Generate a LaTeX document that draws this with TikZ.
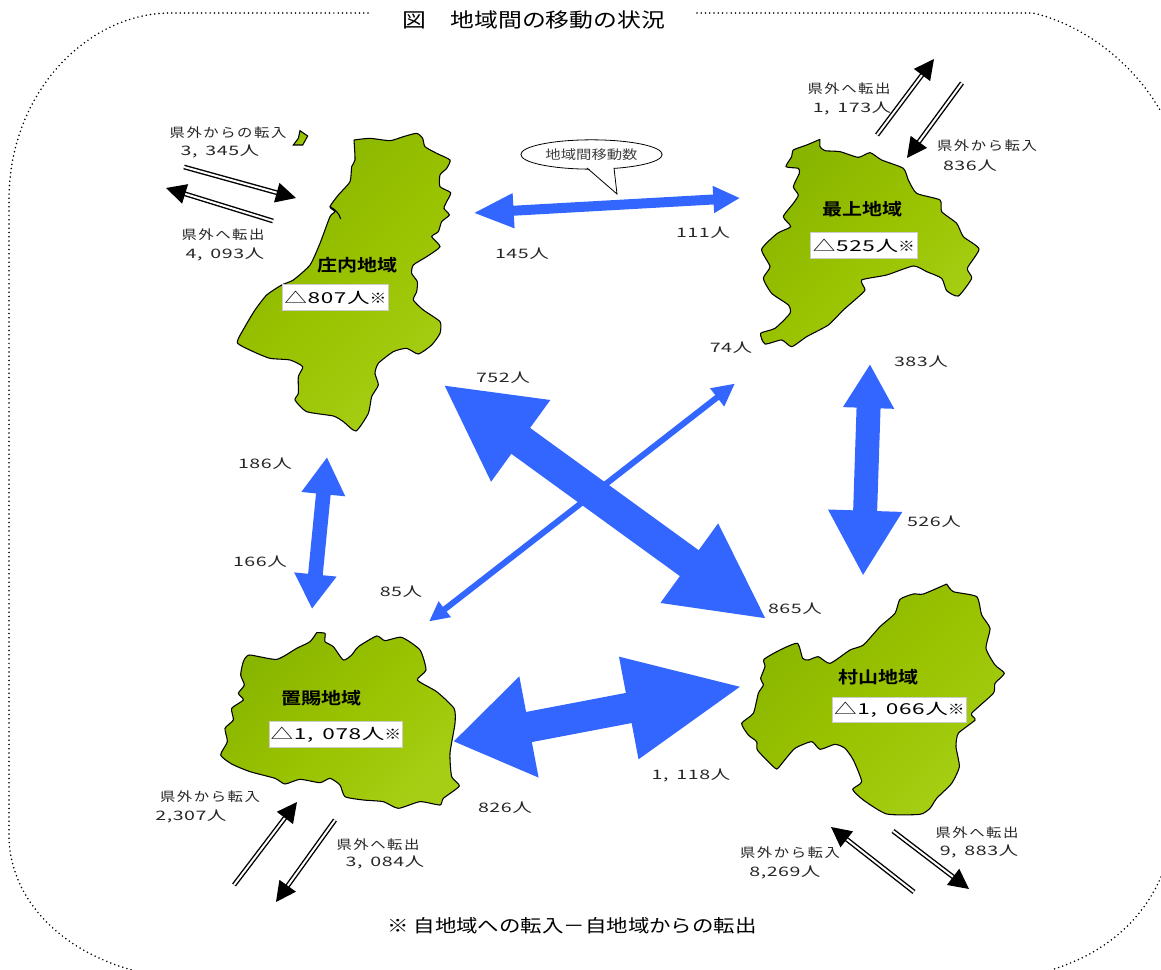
\documentclass[tikz,border=0pt]{standalone}
\usepackage{fontspec}
\usetikzlibrary{arrows.meta,shapes.geometric}
\setmainfont{Noto Sans CJK JP}
\newfontfamily\lblfont[FakeStretch=1.2]{Noto Sans CJK JP}
\newfontfamily\spcfont[FakeStretch=1.2,LetterSpace=12]{Noto Sans CJK JP}
\newfontfamily\numfont[FakeStretch=1.5,LetterSpace=4,WordSpace=1.6]{Noto Sans CJK JP}
\newfontfamily\boldfont[FakeStretch=1.2]{Noto Sans CJK JP Bold}
\newcommand{\kome}{{\lblfont\fontsize{10.5pt}{10pt}\selectfont ※}}
\definecolor{bluearr}{HTML}{3366FF}
\definecolor{mapdark}{HTML}{88B500}
\definecolor{mapmid}{HTML}{99C200}
\definecolor{maplight}{HTML}{A6CE14}
\tikzset{
 x=0.75pt,y=-0.75pt,
 region/.style={draw=black,line width=0.8pt,top color=mapdark,bottom color=maplight,middle color=mapmid,shading angle=45},
 zoomed/.style={x=0.25pt,y=-0.25pt},
 bluearw/.style={draw=bluearr,fill=bluearr},
 flow/.style={double,double distance=1.5pt,line width=1.05pt,-{Triangle[length=15pt,width=15pt]}},
 lbl/.style={font=\spcfont\fontsize{9.6pt}{11pt}\selectfont,text=black!85,inner sep=0pt,yshift=-0.6pt},
 numlbl/.style={font=\numfont\fontsize{9.8pt}{11pt}\selectfont,text=black!85,inner sep=0pt,yshift=-0.6pt},
 regname/.style={font=\boldfont\fontsize{12.5pt}{14pt}\selectfont,text=black,inner sep=0pt},
 valbox/.style={draw=black!20,fill=white,line width=0.8pt,minimum height=19pt,inner sep=0pt,font=\numfont\fontsize{11.3pt}{14pt}\selectfont,text=black},
 dotline/.style={line width=1.3pt,dash pattern=on 0pt off 3.2pt,line cap=round},
}
\begin{document}
\begin{tikzpicture}
\useasboundingbox (0,0) rectangle (1161,970);
% border
\draw[dotline] (368,13) -- (170,13) .. controls (90,13) and (9,90) .. (9,200) -- (9,840) .. controls (12,900) and (60,950) .. (132,970);
\draw[dotline] (697,13) -- (1033,13) .. controls (1085,25) and (1135,65) .. (1161,112);
\draw[dotline] (1161,877) .. controls (1140,925) and (1100,955) .. (1051,970);
\node[inner sep=0pt,font=\lblfont\fontsize{14.9pt}{16pt}\selectfont] (title) at (534,20) {図　地域間の移動の状況};
% regions
\begin{scope}[shift={(130,110)},zoomed]
\path[region] plot[smooth,tension=0.35] coordinates {(672,90)(720,85)(780,92)(820,80)(860,70)(878,85)(885,110)(920,130)(960,150)(950,175)(930,195)(930,230)(962,248)(950,275)(942,295)(958,315)(935,335)(925,365)(905,380)(930,410)(890,440)(850,465)(845,490)(862,515)(860,545)(850,570)(880,600)(930,635)(930,670)(905,705)(865,732)(830,715)(790,725)(745,760)(735,790)(745,825)(725,860)(715,910)(678,963)(640,935)(610,918)(530,905)(495,870)(505,850)(505,800)(518,770)(480,750)(420,745)(370,725)(322,698)(345,650)(375,600)(410,555)(455,525)(490,510)(540,465)(570,400)(600,320)(615,305)(600,290)(625,255)(660,215)(665,170)(675,150)(672,90)};
\draw[line width=0.8pt] (600,290) .. controls (615,298) and (628,310) .. (632,327);
\path[region] (510,62) -- (533,78) -- (518,105) -- (490,105) -- (505,85) -- cycle;
\end{scope}
\begin{scope}[shift={(700,50)},zoomed]
\path[region] plot[smooth,tension=0.35] coordinates {(360,268)(360,290)(375,302)(420,305)(475,322)(510,308)(545,330)(610,355)(625,390)(650,430)(720,450)(725,485)(770,520)(790,560)(837,597)(802,655)(815,685)(775,738)(740,722)(725,685)(680,665)(640,648)(560,675)(485,690)(495,720)(470,745)(430,780)(385,825)(320,860)(275,890)(245,870)(195,882)(182,850)(225,835)(270,790)(265,765)(215,730)(190,685)(210,650)(185,598)(232,550)(272,530)(250,500)(280,460)(295,435)(280,410)(298,370)(295,355)(258,350)(275,320)(280,300)(320,285)(360,268)};
\end{scope}
\begin{scope}[shift={(150,620)},zoomed]
\path[region] plot[smooth,tension=0.35] coordinates {(500,38)(525,40)(525,65)(550,80)(580,120)(605,105)(625,80)(680,48)(705,62)(755,52)(810,90)(828,150)(802,180)(860,215)(912,265)(915,310)(900,400)(905,470)(928,498)(880,535)(870,555)(810,545)(745,565)(700,545)(640,540)(585,530)(570,495)(540,475)(510,488)(450,478)(405,492)(375,475)(300,455)(245,432)(212,405)(232,365)(225,325)(250,300)(245,265)(280,240)(265,220)(283,195)(272,165)(280,125)(298,105)(380,118)(440,85)(480,65)(500,38)};
\end{scope}
\begin{scope}[shift={(720,570)},zoomed]
\path[region] plot[smooth,tension=0.35] coordinates {(680,42)(700,65)(770,80)(785,135)(810,175)(798,235)(825,285)(853,310)(825,340)(820,370)(755,430)(765,450)(715,490)(708,530)(718,590)(695,640)(650,685)(630,715)(600,733)(500,732)(430,690)(398,658)(425,635)(400,570)(375,535)(345,523)(300,538)(275,515)(225,535)(190,575)(170,597)(145,575)(112,540)(110,515)(85,495)(65,460)(100,430)(115,370)(130,345)(122,325)(135,290)(132,268)(180,240)(232,220)(248,265)(265,270)(295,260)(330,280)(390,240)(430,225)(480,170)(525,130)(540,88)(580,72)(610,72)(680,42)};
\end{scope}
% endpoints of the flows between regions
\coordinate (sm) at (473,213); \coordinate (ms) at (740,198);
\coordinate (sy) at (443,384.5); \coordinate (ys) at (767,619.5);
\coordinate (mo) at (735,383.5); \coordinate (om) at (429,621.5);
\coordinate (my) at (870,364); \coordinate (ym) at (863,576);
\coordinate (so) at (327,457); \coordinate (os) at (312,609);
\coordinate (oy) at (453,741.5); \coordinate (yo) at (744,686);
\draw[bluearw,line width=7.5pt,{Triangle[length=30.5pt,width=24pt]}-{Triangle[length=20pt,width=19pt]}] (sm) -- (ms);
\draw[bluearw,line width=4.5pt,{Triangle[length=17pt,width=16pt]}-{Triangle[length=15pt,width=14pt]}] (mo) -- (om);
\draw[bluearw,line width=24pt,{Triangle[length=72pt,width=70pt]}-{Triangle[length=72pt,width=68pt]}] (sy) -- (ys);
\draw[bluearw,line width=18pt,{Triangle[length=33pt,width=36pt]}-{Triangle[length=49pt,width=52pt]}] (my) -- (ym);
\draw[bluearw,line width=11pt,{Triangle[length=28pt,width=31pt]}-{Triangle[length=26pt,width=30pt]}] (so) -- (os);
\draw[bluearw,line width=23pt,{Triangle[length=58pt,width=73pt]}-{Triangle[length=88pt,width=71pt]}] (oy) -- (yo);
% callout
\node[ellipse,draw=black,fill=white,line width=0.6pt,minimum width=106pt,minimum height=22pt,inner sep=0pt,text=black!75,font=\lblfont\fontsize{9.6pt}{11pt}\selectfont] (call) at (591.5,154.5) {地域間移動数};
\coordinate (calltip) at (617,194);
\fill[white] (587,167) -- (calltip) -- (614,167) -- cycle;
\draw[line width=0.6pt] (587,168) -- (calltip) -- (614,168);
% external flows
\coordinate (a1) at (184,167); \coordinate (a2) at (296,198);
\coordinate (b1) at (273,221); \coordinate (b2) at (166,188);
\coordinate (c1) at (877,135); \coordinate (c2) at (934,59);
\coordinate (d1) at (962,83); \coordinate (d2) at (907,158);
\coordinate (e1) at (234,885); \coordinate (e2) at (297,802);
\coordinate (f1) at (335,820); \coordinate (f2) at (276,902);
\coordinate (g1) at (914,892); \coordinate (g2) at (831,827);
\coordinate (h1) at (893,831); \coordinate (h2) at (969,889);
\foreach \p/\q in {a1/a2,b1/b2,c1/c2,d1/d2,e1/e2,f1/f2,g1/g2,h1/h2} \draw[flow] (\p) -- (\q);
% region names and values
\node[regname] (n1) at (357,265) {庄内地域};
\node[valbox,minimum width=80pt] (v1) at (335.5,297.5) {△807人\kome};
\node[regname] (n2) at (862,209) {最上地域};
\node[valbox,minimum width=80pt] (v2) at (864,245.5) {△525人\kome};
\node[regname] (n3) at (321,698) {置賜地域};
\node[valbox,minimum width=100pt] (v3) at (336,734.5) {△1, 078人\kome};
\node[regname] (n4) at (878,677) {村山地域};
\node[valbox,minimum width=100pt] (v4) at (899.5,710) {△1, 066人\kome};
% labels
\node[lbl] (t1) at (228,132) {県外からの転入};
\node[numlbl] (t2) at (220,151) {3, 345人};
\node[lbl] (t3) at (223,234) {県外へ転出};
\node[numlbl] (t4) at (225,254) {4, 093人};
\node[numlbl] (t5) at (522,253) {145人};
\node[numlbl] (t6) at (703,232) {111人};
\node[lbl] (t7) at (849,88) {県外へ転出};
\node[numlbl] (t8) at (852,108) {1, 173人};
\node[lbl] (t9) at (987,145) {県外から転入};
\node[numlbl] (t10) at (970,165) {836人};
\node[numlbl] (t11) at (731,347) {74人};
\node[numlbl] (t12) at (921,361) {383人};
\node[numlbl] (t13) at (503,377) {752人};
\node[numlbl] (t14) at (265,463) {186人};
\node[numlbl] (t15) at (934,521) {526人};
\node[numlbl] (t16) at (260,561) {166人};
\node[numlbl] (t17) at (401,591) {85人};
\node[numlbl] (t18) at (795,608) {865人};
\node[numlbl] (t19) at (691,775) {1, 118人};
\node[numlbl] (t20) at (505,807) {826人};
\node[lbl] (t21) at (210,796) {県外から転入};
\node[numlbl] (t22) at (191,816) {2,307人};
\node[lbl] (t23) at (378,844) {県外へ転出};
\node[numlbl] (t24) at (385,862) {3, 084人};
\node[lbl] (t25) at (790,852) {県外から転入};
\node[numlbl] (t26) at (785,872) {8,269人};
\node[lbl] (t27) at (977,832) {県外へ転出};
\node[numlbl] (t28) at (979,851) {9, 883人};
\node[inner sep=0pt,font=\lblfont\fontsize{13.4pt}{16pt}\selectfont] (note) at (572,926) {※ 自地域への転入－自地域からの転出};
\end{tikzpicture}
\end{document}
